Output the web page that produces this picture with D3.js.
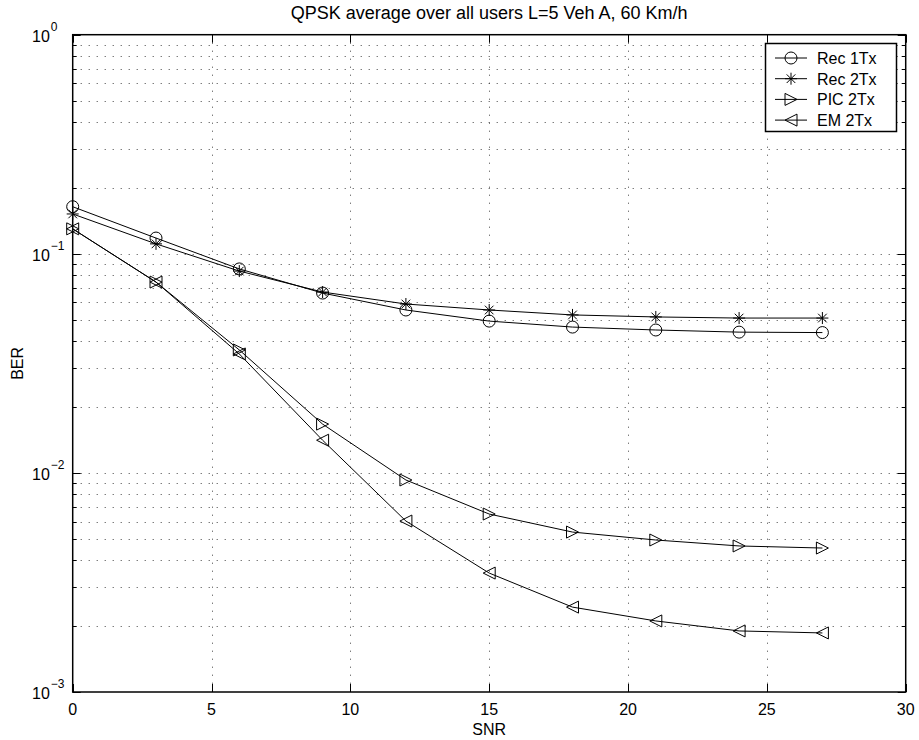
<!DOCTYPE html>
<html>
<head>
<meta charset="utf-8">
<script src="https://cdn.jsdelivr.net/npm/d3@7"></script>
<style>
  body { margin: 0; background: #fff; }
  svg { display: block; font-family: "Liberation Sans", Arial, Helvetica, sans-serif; }
</style>
</head>
<body>
<div id="chart"></div>
<script>
// data
var snr = [0, 3, 6, 9, 12, 15, 18, 21, 24, 27];
var rec1Tx = [0.164, 0.118, 0.0853, 0.0662, 0.0554, 0.0493, 0.0463, 0.0449, 0.0439, 0.0437];
var rec2Tx = [0.152, 0.111, 0.0834, 0.0669, 0.059, 0.0554, 0.0526, 0.0515, 0.0509, 0.0509];
var pic2Tx = [0.130, 0.0743, 0.0364, 0.0167, 0.00928, 0.00649, 0.00537, 0.00494, 0.00464, 0.00454];
var em2Tx = [0.130, 0.0743, 0.0349, 0.0141, 0.00603, 0.00349, 0.00244, 0.00211, 0.0019, 0.00186];
var seriesNames = ["Rec 1Tx", "Rec 2Tx", "PIC 2Tx", "EM 2Tx"];
var seriesMarkers = ["circle", "star", "triRight", "triLeft"];
var xTicks = [0, 5, 10, 15, 20, 25, 30];
var yTickExps = [0, -1, -2, -3];
var titleText = "QPSK average over all users L=5 Veh A, 60 Km/h";

var dims = {
	width: 919,
	height: 740,
	left: 72.7,
	right: 905.7,
	top: 34.7,
	bottom: 692
};

var svg = d3.select("#chart").append("svg")
	.attr("width", dims.width)
	.attr("height", dims.height);

var x = d3.scaleLinear().domain([0, 30]).range([dims.left, dims.right]);
var y = d3.scaleLog().domain([1e-3, 1]).range([dims.bottom, dims.top]);

// grid values: every minor decade step
var yGrid = [];
yTickExps.forEach(function(e) {
	if (e === 0) return;
	for (var k = 1; k <= 9; k++) yGrid.push(k * Math.pow(10, e));
});
yGrid = yGrid.filter(function(v) { return v > 1e-3; });

var grid = svg.append("g").attr("class", "grid");
grid.selectAll("line.gy")
	.data(yGrid)
	.enter().append("line")
	.attr("x1", dims.left).attr("x2", dims.right)
	.attr("y1", function(d) { return Math.round(y(d)) + 0.5; })
	.attr("y2", function(d) { return Math.round(y(d)) + 0.5; })
	.attr("stroke", "#444")
	.attr("stroke-width", 1)
	.attr("stroke-dasharray", "1,7");

grid.selectAll("line.gx")
	.data(xTicks.slice(1, -1))
	.enter().append("line")
	.attr("y1", dims.top).attr("y2", dims.bottom)
	.attr("x1", function(d) { return Math.round(x(d)) + 0.5; })
	.attr("x2", function(d) { return Math.round(x(d)) + 0.5; })
	.attr("stroke", "#444")
	.attr("stroke-width", 1)
	.attr("stroke-dasharray", "1,7");

// ticks inside the box
var ticks = svg.append("g").attr("stroke", "#000").attr("stroke-width", 1);
xTicks.forEach(function(t) {
	var px = Math.round(x(t)) + 0.5;
	ticks.append("line").attr("x1", px).attr("x2", px).attr("y1", dims.bottom).attr("y2", dims.bottom - 8);
	ticks.append("line").attr("x1", px).attr("x2", px).attr("y1", dims.top).attr("y2", dims.top + 8);
});
yGrid.concat([1, 1e-3]).forEach(function(v) {
	var major = Math.abs(Math.log10(v) - Math.round(Math.log10(v))) < 1e-9;
	var len = major ? 8 : 4;
	var py = Math.round(y(v)) + 0.5;
	ticks.append("line").attr("x1", dims.left).attr("x2", dims.left + len).attr("y1", py).attr("y2", py);
	ticks.append("line").attr("x1", dims.right).attr("x2", dims.right - len).attr("y1", py).attr("y2", py);
});

// frame
svg.append("rect")
	.attr("x", dims.left).attr("y", dims.top)
	.attr("width", dims.right - dims.left)
	.attr("height", dims.bottom - dims.top)
	.attr("fill", "none")
	.attr("stroke", "#000")
	.attr("stroke-width", 1.5);

// x tick labels
svg.append("g").selectAll("text")
	.data(xTicks)
	.enter().append("text")
	.attr("x", function(d) { return x(d); })
	.attr("y", dims.bottom + 23)
	.attr("text-anchor", "middle")
	.attr("font-size", 16)
	.text(function(d) { return d; });

// y tick labels with superscript exponent
var yl = svg.append("g").selectAll("text")
	.data(yTickExps)
	.enter().append("text")
	.attr("x", 32)
	.attr("y", function(d) { return y(Math.pow(10, d)) + 7; })
	.attr("font-size", 16);
yl.append("tspan").text("10");
yl.append("tspan")
	.attr("font-size", 12)
	.attr("dy", -11)
	.attr("dx", 1)
	.text(function(d) { return d === 0 ? "0" : "\u2212" + Math.abs(d); });

// axis titles
svg.append("text")
	.attr("x", (dims.left + dims.right) / 2)
	.attr("y", 735)
	.attr("text-anchor", "middle")
	.attr("font-size", 16)
	.text("SNR");

svg.append("text")
	.attr("transform", "translate(23," + ((dims.top + dims.bottom) / 2) + ") rotate(-90)")
	.attr("text-anchor", "middle")
	.attr("font-size", 16)
	.text("BER");

svg.append("text")
	.attr("x", (dims.left + dims.right) / 2)
	.attr("y", 19)
	.attr("text-anchor", "middle")
	.attr("font-size", 18)
	.text(titleText);

// markers
function drawMarker(g, type, cx, cy) {
	if (type === "circle") {
		g.append("circle").attr("cx", cx).attr("cy", cy).attr("r", 6)
			.attr("fill", "none").attr("stroke", "#000");
	} else if (type === "star") {
		var r = 6, d = r * 0.72;
		[[-r, 0, r, 0], [0, -r, 0, r], [-d, -d, d, d], [-d, d, d, -d]].forEach(function(s) {
			g.append("line").attr("x1", cx + s[0]).attr("y1", cy + s[1])
				.attr("x2", cx + s[2]).attr("y2", cy + s[3]).attr("stroke", "#000");
		});
	} else {
		var dir = type === "triRight" ? 1 : -1;
		var pts = [[cx - 6 * dir, cy - 6], [cx - 6 * dir, cy + 6], [cx + 6 * dir, cy]];
		g.append("polygon").attr("points", pts.map(function(p) { return p.join(","); }).join(" "))
			.attr("fill", "none").attr("stroke", "#000");
	}
}

var allSeries = [rec1Tx, rec2Tx, pic2Tx, em2Tx];
var line = d3.line()
	.x(function(d) { return x(d[0]); })
	.y(function(d) { return y(d[1]); });

var plot = svg.append("g");
allSeries.forEach(function(vals, i) {
	var pts = snr.map(function(s, j) { return [s, vals[j]]; });
	plot.append("path")
		.attr("d", line(pts))
		.attr("fill", "none")
		.attr("stroke", "#000")
		.attr("stroke-width", 1);
	var mg = plot.append("g").attr("stroke-width", 1);
	pts.forEach(function(p) { drawMarker(mg, seriesMarkers[i], x(p[0]), y(p[1])); });
});

// legend
var legend = svg.append("g");
legend.append("rect")
	.attr("x", 765.5).attr("y", 43.5)
	.attr("width", 131).attr("height", 88)
	.attr("fill", "#fff")
	.attr("stroke", "#000")
	.attr("stroke-width", 1.5);
seriesNames.forEach(function(name, i) {
	var ly = 58 + i * 20.7;
	legend.append("line")
		.attr("x1", 775).attr("x2", 807)
		.attr("y1", ly).attr("y2", ly)
		.attr("stroke", "#000");
	drawMarker(legend, seriesMarkers[i], 791, ly);
	legend.append("text")
		.attr("x", 817).attr("y", ly + 6)
		.attr("font-size", 16)
		.text(name);
});
</script>
</body>
</html>
